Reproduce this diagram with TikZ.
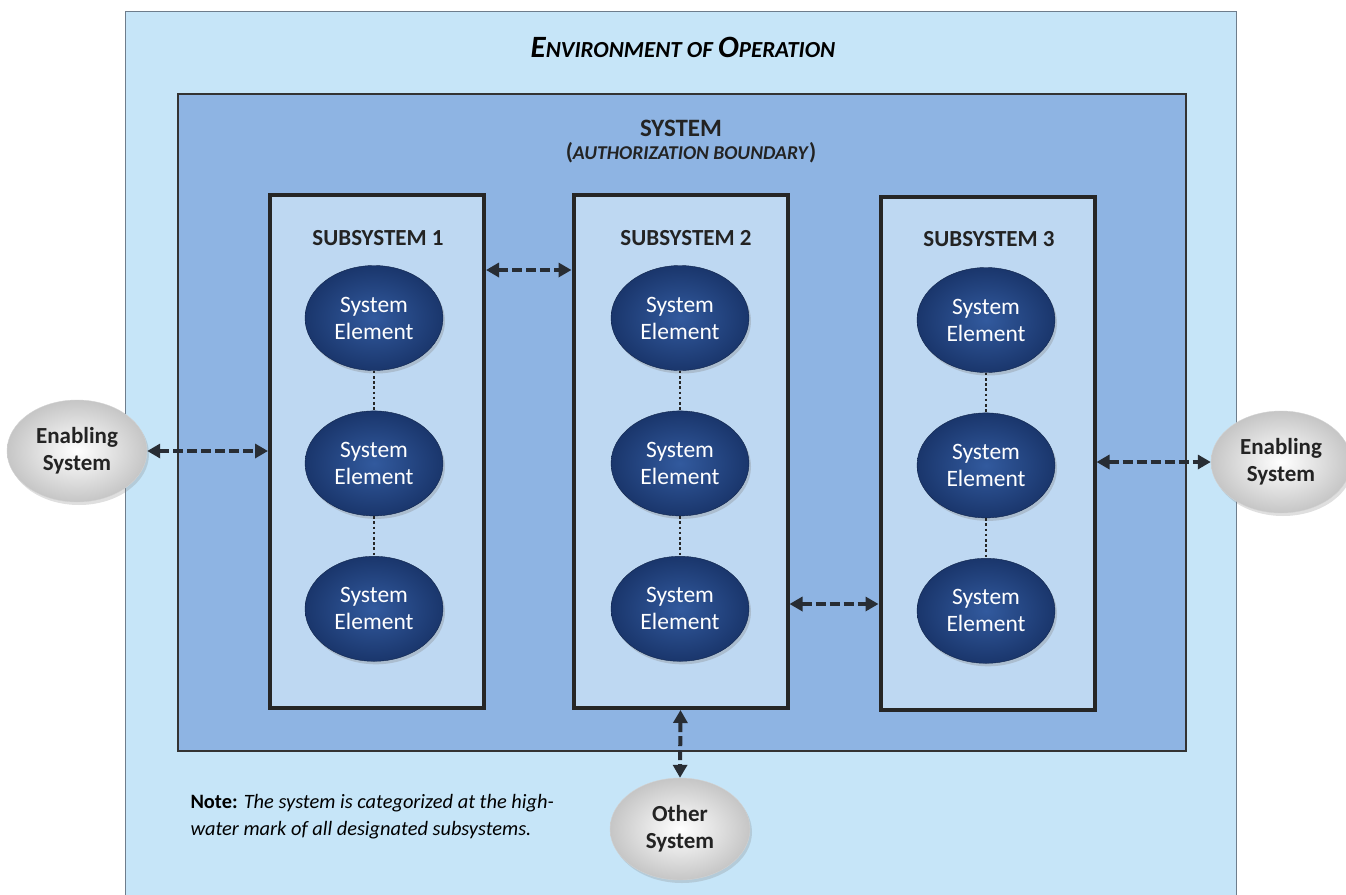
\documentclass[tikz,border=0pt]{standalone}
\usepackage{fontspec}
\setmainfont{Carlito}
\usetikzlibrary{positioning, shapes.geometric, arrows.meta, shadows}

\definecolor{envblue}{RGB}{198,229,248}
\definecolor{envedge}{RGB}{110,125,140}
\definecolor{sysblue}{RGB}{142,180,227}
\definecolor{subblue}{RGB}{190,216,242}
\definecolor{elemdark}{RGB}{26,54,108}
\definecolor{elemlight}{RGB}{50,90,158}
\definecolor{txtdark}{RGB}{35,35,35}
\definecolor{arrowdark}{RGB}{40,45,52}

\newcommand{\capbig}[1]{{\fontsize{31}{34}\selectfont #1}}

\tikzset{
    envbox/.style={draw=envedge, line width=1pt, fill=envblue, inner sep=0pt,
        minimum width=1111pt, minimum height=900pt},
    sysbox/.style={draw=black!80, line width=2pt, fill=sysblue, inner sep=0pt,
        minimum width=1008pt, minimum height=657pt},
    subbox/.style={draw=black!85, line width=4pt, fill=subblue, inner sep=0pt,
        minimum width=214pt, minimum height=513pt},
    subtitle/.style={font=\fontsize{23}{25}\selectfont\bfseries, text=txtdark},
    elem/.style={ellipse, minimum width=138pt, minimum height=105pt, inner sep=0pt,
        inner color=elemlight, outer color=elemdark, draw=elemdark!70!black,
        text=white, align=center, font=\fontsize{23.5}{27}\selectfont,
        drop shadow={opacity=0.3, shadow xshift=2pt, shadow yshift=-3pt}},
    extsys/.style={ellipse, minimum width=140pt, minimum height=102pt, inner sep=0pt,
        inner color=white, outer color=gray!45, draw=gray!35,
        text=txtdark, align=center, font=\fontsize{23}{27}\selectfont\bfseries,
        drop shadow={opacity=0.25, shadow xshift=2pt, shadow yshift=-3pt}},
    link/.style={{Triangle[length=13pt,width=14pt]}-{Triangle[length=13pt,width=14pt]},
        dash pattern=on 10pt off 4pt, line width=4pt, draw=arrowdark},
    chain/.style={line width=2.6pt, dash pattern=on 2.6pt off 2.6pt, draw=black!85}
}

\begin{document}
\begin{tikzpicture}[x=1pt, y=-1pt]

    \useasboundingbox (0,0) rectangle (1346,894);
    \clip (0,0) rectangle (1346,894);

    % Environment of operation
    \node[envbox] (env) at (681,461) {};
    \node (envtitle) at (683,47) {\fontsize{23}{26}\selectfont\bfseries\itshape
        \capbig{E}NVIRONMENT OF \capbig{O}PERATION};

    % System (authorization boundary)
    \node[sysbox] (sys) at (682,422.5) {};
    \node (systitle) at (681,128) {\fontsize{25}{28}\selectfont\bfseries\color{txtdark}SYSTEM};
    \node (sysnote) at (691,153) {\fontsize{19.6}{22}\selectfont\bfseries\color{txtdark}%
        {\fontsize{23}{22}\selectfont(}\textit{AUTHORIZATION BOUNDARY}{\fontsize{23}{22}\selectfont)}};

    % Subsystems
    \node[subbox] (sub1) at (377,451.5) {};
    \node[subbox] (sub2) at (680.5,451.5) {};
    \node[subbox] (sub3) at (987.5,453.5) {};
    \node[subtitle] (t1) at (378,238) {SUBSYSTEM 1};
    \node[subtitle] (t2) at (686,238) {SUBSYSTEM 2};
    \node[subtitle] (t3) at (989,239) {SUBSYSTEM 3};

    % System elements
    \node[elem] (e11) at (374,318) {System\\Element};
    \node[elem] (e12) [below=40pt of e11] {System\\Element};
    \node[elem] (e13) [below=40pt of e12] {System\\Element};
    \node[elem] (e21) at (680,318) {System\\Element};
    \node[elem] (e22) [below=40pt of e21] {System\\Element};
    \node[elem] (e23) [below=40pt of e22] {System\\Element};
    \node[elem] (e31) at (986,320) {System\\Element};
    \node[elem] (e32) [below=40pt of e31] {System\\Element};
    \node[elem] (e33) [below=40pt of e32] {System\\Element};

    \draw[chain] (e11) -- (e12);
    \draw[chain] (e12) -- (e13);
    \draw[chain] (e21) -- (e22);
    \draw[chain] (e22) -- (e23);
    \draw[chain] (e31) -- (e32);
    \draw[chain] (e32) -- (e33);

    % Outside systems
    \node[extsys] (enleft) at (77,451) {Enabling\\System};
    \node[extsys] (enright) at (1281,462) {Enabling\\System};
    \node[extsys] (other) at (680,829) {Other\\System};

    % Interfaces
    \draw[link] ([yshift=-77pt]sub1.north east) -- ([yshift=-77pt]sub1.north east -| sub2.west);
    \draw[link] ([yshift=106pt]sub2.south east) -- ([yshift=106pt]sub2.south east -| sub3.west);
    \draw[link] (enleft.east) -- (enleft.east -| sub1.west);
    \draw[link] (sub3.east |- enright.west) -- (enright.west);
    \draw[link] (sub2.south) -- (other.north);

    % Note
    \node[anchor=west, align=left, text=black, font=\fontsize{20.4}{27}\selectfont] (note) at (187,817)
        {\textbf{Note:} \textit{The system is categorized at the high-}\\
         \textit{water mark of all designated subsystems.}};

\end{tikzpicture}
\end{document}
